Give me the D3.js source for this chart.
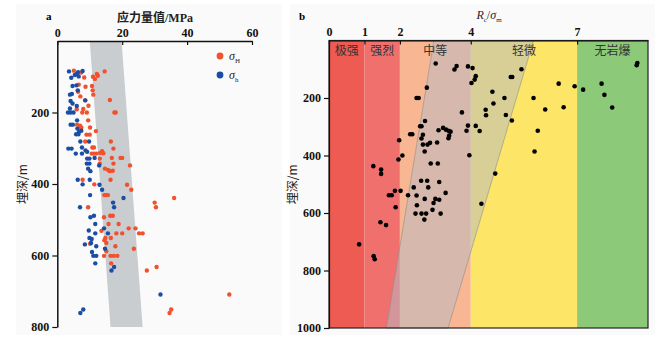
<!DOCTYPE html>
<html>
<head>
<meta charset="utf-8">
<script src="https://cdn.jsdelivr.net/npm/d3@7"></script>
<style>
  body { margin: 0; background: #fff; }
  svg text { font-family: "Liberation Serif", "DejaVu Serif", serif; }
  svg text.cjk, svg tspan.cjk { font-family: "Noto Sans CJK SC", sans-serif; }
</style>
</head>
<body>
<div id="chart"></div>
<script>
// ---- data (a) stress vs depth ----
const stressTicks = [0, 20, 40, 60];
const depthTicksA = [200, 400, 600, 800];
// grey band: stress range at 0 m and at 800 m
const bandTop = [10, 19.8];
const bandBottom = [16.4, 26.3];
// [stress MPa, depth m]
const sigmaH = [
  [5.1,83],[6.2,92],[7.4,88],[8.3,102],[11.0,100],[12.2,92],[14.6,85],[11.6,106],[12.5,97],
  [10.7,126],[8.7,128],[10.9,138],[11.1,150],[6.6,122],[6.4,142],[7.1,155],[16.2,165],[8.6,166],[9.6,181],[8.0,190],[6.0,191],
  [17.6,200],[18.0,200],[7.7,200],[9.1,200],
  [9.5,222],[6.1,234],[7.0,237],[7.4,242],[10.1,242],[9.0,262],[10.0,262],[11.9,252],[8.6,281],[16.5,281],[10.8,298],[11.3,298],[17.3,301],
  [10.6,315],[11.3,315],[12.0,315],[13.2,313],[13.8,308],[14.2,314],[13.1,329],[13.1,343],[16.8,327],[19.5,327],[20.0,327],[17.3,343],[22.4,348],
  [14.7,357],[15.7,361],[16.2,364],[17.1,363],[16.4,388],[7.8,388],[11.4,401],[21.5,402],[22.8,416],[14.5,431],[14.9,431],[15.6,431],
  [30.0,452],[30.4,465],[36.0,439],[9.5,465],
  [14.4,493],[16.3,489],[17.1,489],[18.9,512],[15.8,512],[13.6,531],[22.0,524],[24.1,524],[25.2,538],[26.3,538],[18.2,538],[20.0,538],
  [16.5,551],[14.8,551],[14.5,557],[15.1,565],[17.9,574],[10.1,567],[23.6,581],[15.1,588],[14.4,601],[16.4,601],[17.4,601],[18.5,601],
  [16.6,622],[30.6,632],[27.6,642],[53.0,709],[35.1,751],[34.6,761]
];
const sigmah = [
  [3.6,85],[4.3,103],[5.4,95],[6.0,92],[6.6,99],[7.8,84],[6.4,87],
  [4.7,126],[5.9,124],[6.3,138],[3.9,150],[4.5,148],[4.1,168],[4.7,175],[8.6,166],[6.0,182],
  [3.3,200],[4.1,200],[5.0,200],[3.9,189],
  [4.1,234],[4.8,234],[6.1,222],[6.2,245],[6.7,254],[7.4,251],[5.8,261],[6.5,261],[7.1,281],[9.8,281],[3.4,301],[4.4,301],[7.6,298],
  [5.7,315],[7.6,315],[8.7,306],[9.2,310],[9.2,329],[9.9,329],[11.5,327],[9.1,343],[9.9,343],[12.9,348],[9.5,357],[10.2,364],
  [6.3,388],[7.8,401],[10.0,388],[13.0,402],[13.8,416],[10.1,431],[17.2,452],[17.5,465],[20.4,439],[7.0,465],
  [10.2,493],[11.3,489],[11.7,512],[14.4,524],[15.6,538],[9.7,530],[11.7,538],[9.9,551],[10.6,554],[10.4,565],[8.5,569],[12.0,574],[14.7,581],
  [10.7,590],[11.1,601],[12.0,601],[11.7,622],[17.5,632],[16.7,642],[31.8,709],[8.0,751],[7.1,761]
];

// ---- data (b) Rc/sigma_m vs depth ----
const ratioTicks = [0, 1, 2, 4, 7];
const depthTicksB = [200, 400, 600, 800, 1000];
const zoneBreaks = [0, 1, 2, 4, 7, 9];
const zoneNames = ['极强', '强烈', '中等', '轻微', '无岩爆'];
const zoneColors = ['#ee5b52', '#f0706d', '#f8b792', '#fde568', '#8cca7a'];
// shaded band: ratio range at 0 m and at 1000 m
const rockTop = [2.96, 5.77];
const rockBottom = [1.62, 3.36];
const ratioPoints = [
  [3.01,80],[3.54,101],[3.60,89],[3.92,90],[4.05,96],[4.14,124],[4.11,136],[4.02,148],[2.76,164],[2.47,200],[2.53,200],
  [5.13,127],[5.17,127],[5.43,100],[4.61,178],[4.95,200],[4.64,219],[4.42,241],[4.43,260],[3.75,250],[4.99,259],[5.16,278],
  [5.77,200],[6.10,240],[6.48,150],[6.62,232],[6.93,159],[7.17,171],[7.69,150],[7.77,189],[7.99,233],[8.68,86],[8.70,78],
  [2.71,280],[2.57,298],[2.61,298],[2.29,326],[2.35,326],[2.65,328],[2.61,341],[2.65,362],[2.70,386],[2.78,362],[2.85,356],[3.05,355],
  [3.09,312],[3.22,304],[3.30,310],[3.37,314],[3.43,317],[3.39,331],[3.37,340],[1.98,347],[2.07,400],[1.96,414],
  [3.88,314],[3.92,296],[3.96,399],[4.14,297],[4.25,315],[4.69,463],[4.30,568],[5.80,386],[5.89,314],
  [1.25,437],[1.47,449],[1.47,464],[2.87,428],[3.07,428],[2.60,488],[2.77,488],[3.11,492],[2.39,511],[2.80,511],[1.86,523],[2.02,523],
  [3.29,530],[1.69,538],[1.77,538],[2.23,538],[2.47,539],[2.70,551],[3.00,551],[3.11,554],[2.95,565],[2.48,573],[1.88,580],[2.92,589],
  [2.44,602],[2.61,602],[2.74,602],[3.15,602],[2.69,623],[1.45,632],[1.61,642],[0.85,709],[1.26,750],[1.29,761]
];

const red = '#f1512c', blue = '#1b4ea3';

const svg = d3.select('#chart').append('svg')
  .attr('width', 671).attr('height', 348);

// faint panel backgrounds
svg.append('rect').attr('x', 16).attr('y', 4).attr('width', 266).attr('height', 331).attr('fill', '#fafafa');
svg.append('rect').attr('x', 290).attr('y', 4).attr('width', 365).attr('height', 331).attr('fill', '#fafafa');

function styleAxis(a, w) {
  a.attr('font-family', null);
  a.select('.domain').attr('stroke', '#111').attr('stroke-width', w);
  a.selectAll('.tick line').attr('stroke', '#111').attr('stroke-width', 1.2);
  a.selectAll('.tick text').attr('font-size', 12).attr('fill', '#111').attr('font-weight', 'bold');
}

// ================= panel a =================
const xA = d3.scaleLinear().domain([0, 60]).range([57.3, 252]);
const yA = d3.scaleLinear().domain([0, 800]).range([41, 327]);
const gA = svg.append('g');

gA.append('polygon')
  .attr('points', [
    [xA(bandTop[0]), yA(0)], [xA(bandTop[1]), yA(0)],
    [xA(bandBottom[1]), yA(800)], [xA(bandBottom[0]), yA(800)]
  ].map(p => p.join(',')).join(' '))
  .attr('fill', '#c9cdd0');

gA.selectAll('circle.h').data(sigmaH).join('circle')
  .attr('class', 'h')
  .attr('cx', d => xA(d[0])).attr('cy', d => yA(d[1])).attr('r', 2.2)
  .attr('fill', red);
gA.selectAll('circle.l').data(sigmah).join('circle')
  .attr('class', 'l')
  .attr('cx', d => xA(d[0])).attr('cy', d => yA(d[1])).attr('r', 2.2)
  .attr('fill', blue);

const axTopA = gA.append('g').attr('transform', `translate(0,${yA(0)})`)
  .call(d3.axisTop(xA).tickValues(stressTicks).tickSizeInner(-4).tickSizeOuter(0).tickPadding(4));
const axLeftA = gA.append('g').attr('transform', `translate(${xA(0)},0)`)
  .call(d3.axisLeft(yA).tickValues(depthTicksA).tickSizeInner(5).tickSizeOuter(0).tickPadding(3));
styleAxis(axTopA, 1.5);
styleAxis(axLeftA, 1.5);

const titleA = gA.append('text').attr('x', 155).attr('y', 22)
  .attr('text-anchor', 'middle').attr('font-size', 12).attr('font-weight', 'bold').attr('fill', '#222');
titleA.append('tspan').attr('class', 'cjk').text('应力量值');
titleA.append('tspan').text('/MPa');
gA.append('text').attr('x', 46).attr('y', 20).attr('font-size', 11).attr('font-weight', 'bold').text('a');
gA.append('text').attr('class', 'cjk')
  .attr('transform', `translate(27,${(yA(0) + yA(800)) / 2}) rotate(-90)`)
  .attr('text-anchor', 'middle').attr('font-size', 12).attr('fill', '#222')
  .text('埋深/m');

// legend
const legend = [
  { color: red, sub: 'H', y: 56 },
  { color: blue, sub: 'h', y: 75 }
];
legend.forEach(l => {
  gA.append('circle').attr('cx', 220).attr('cy', l.y).attr('r', 3.4).attr('fill', l.color);
  const t = gA.append('text').attr('x', 229).attr('y', l.y + 4).attr('font-size', 12).attr('fill', '#222');
  t.append('tspan').attr('font-style', 'italic').text('σ');
  t.append('tspan').attr('font-size', 7).attr('dy', 3).text(l.sub);
});

// ================= panel b =================
const xB = d3.scaleLinear().domain([0, 9]).range([329, 648]);
const yB = d3.scaleLinear().domain([0, 1000]).range([40.5, 328]);
const gB = svg.append('g');

const zones = zoneNames.map((name, i) => ({ name, x0: zoneBreaks[i], x1: zoneBreaks[i + 1], color: zoneColors[i] }));
gB.selectAll('rect.zone').data(zones).join('rect')
  .attr('class', 'zone')
  .attr('x', d => xB(d.x0)).attr('y', yB(0))
  .attr('width', d => xB(d.x1) - xB(d.x0)).attr('height', yB(1000) - yB(0))
  .attr('fill', d => d.color);

gB.append('polygon')
  .attr('points', [
    [xB(rockTop[0]), yB(0)], [xB(rockTop[1]), yB(0)],
    [xB(rockBottom[1]), yB(1000)], [xB(rockBottom[0]), yB(1000)]
  ].map(p => p.join(',')).join(' '))
  .attr('fill', '#b4b9c6').attr('fill-opacity', 0.5)
  .attr('stroke', '#8e8e8e').attr('stroke-width', 0.6);

gB.selectAll('text.zone').data(zones).join('text')
  .attr('class', 'zone cjk')
  .attr('x', d => (xB(d.x0) + xB(d.x1)) / 2).attr('y', 55)
  .attr('text-anchor', 'middle').attr('font-size', 12).attr('fill', '#333')
  .text(d => d.name);

gB.selectAll('circle.pt').data(ratioPoints).join('circle')
  .attr('class', 'pt')
  .attr('cx', d => xB(d[0])).attr('cy', d => yB(d[1])).attr('r', 2.3)
  .attr('fill', '#000');

gB.append('rect').attr('x', xB(0)).attr('y', yB(0))
  .attr('width', xB(9) - xB(0)).attr('height', yB(1000) - yB(0))
  .attr('fill', 'none').attr('stroke', '#222').attr('stroke-width', 1.2);

const axTopB = gB.append('g').attr('transform', `translate(0,${yB(0)})`)
  .call(d3.axisTop(xB).tickValues(ratioTicks).tickSizeInner(-4).tickSizeOuter(0).tickPadding(5));
const axLeftB = gB.append('g').attr('transform', `translate(${xB(0)},0)`)
  .call(d3.axisLeft(yB).tickValues(depthTicksB).tickFormat(d3.format('d')).tickSizeInner(5).tickSizeOuter(0).tickPadding(3));
styleAxis(axTopB, 1.2);
styleAxis(axLeftB, 1.2);

const tb = gB.append('text').attr('x', 489).attr('y', 19).attr('text-anchor', 'middle')
  .attr('font-size', 12).attr('fill', '#222');
tb.append('tspan').attr('font-style', 'italic').text('R');
tb.append('tspan').attr('font-size', 7).attr('dy', 3).text('c');
tb.append('tspan').attr('dy', -3).text('/');
tb.append('tspan').attr('font-style', 'italic').text('σ');
tb.append('tspan').attr('font-size', 7).attr('dy', 3).text('m');

gB.append('text').attr('x', 299).attr('y', 20).attr('font-size', 11).attr('font-weight', 'bold').text('b');
gB.append('text').attr('class', 'cjk')
  .attr('transform', `translate(297,${(yB(0) + yB(1000)) / 2}) rotate(-90)`)
  .attr('text-anchor', 'middle').attr('font-size', 12).attr('fill', '#222')
  .text('埋深/m');
</script>
</body>
</html>
